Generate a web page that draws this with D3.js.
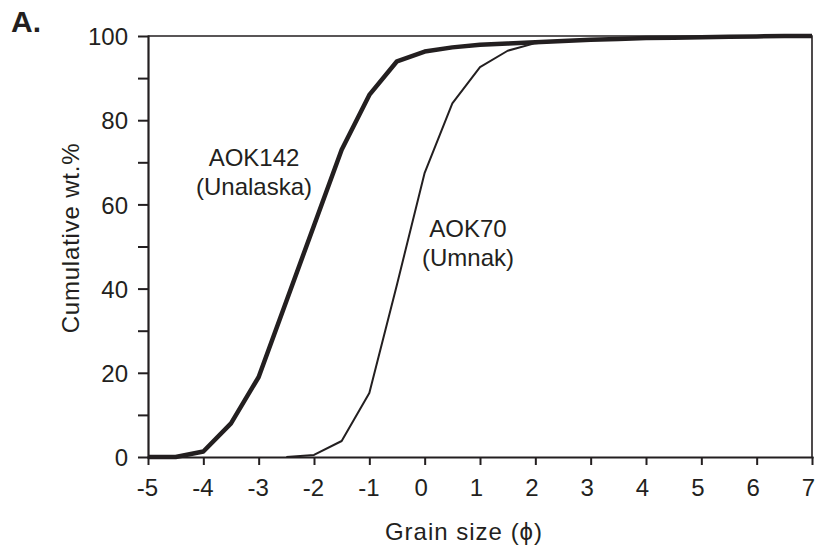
<!DOCTYPE html>
<html>
<head>
<meta charset="utf-8">
<style>
  body { margin: 0; background: #fff; }
  svg text { font-family: "Liberation Sans", Arial, sans-serif; fill: #231f20; }
</style>
<title>Cumulative grain size</title>
</head>
<body>
<script src="https://cdn.jsdelivr.net/npm/d3@7"></script>
<script>

// grain size classes (phi), every half phi
var phi = [-5, -4.5, -4, -3.5, -3, -2.5, -2, -1.5, -1, -0.5, 0, 0.5, 1, 1.5, 2, 2.5, 3, 3.5, 4, 4.5, 5, 5.5, 6, 6.5, 7];

// cumulative wt.%
var aok142 = [0, 0, 1.3, 8, 19, 37, 55, 73, 86, 94, 96.3, 97.3, 97.9, 98.2, 98.5, 98.8, 99.1, 99.3, 99.5, 99.6, 99.7, 99.8, 99.9, 100, 100];
var aok70  = [null, null, null, null, null, 0, 0.5, 3.8, 15.2, 41, 67.5, 84, 92.6, 96.5, 98.3, 98.8, 99.1, 99.3, 99.5, 99.6, 99.7, 99.8, 99.9, 100, 100];

var xTicks = [-5, -4, -3, -2, -1, 0, 1, 2, 3, 4, 5, 6, 7];
var yTicks = [0, 10, 20, 30, 40, 50, 60, 70, 80, 90, 100];
var yLabels = [0, 20, 40, 60, 80, 100];

var ink = "#231f20";
var width = 817, height = 555;
var margin = {top: 36, right: 5, bottom: 98, left: 148};

var svg = d3.select("body").append("svg")
    .attr("width", width)
    .attr("height", height);

var x = d3.scaleLinear().domain([-5, 7]).range([margin.left, width - margin.right]);
var y = d3.scaleLinear().domain([0, 100]).range([height - margin.bottom, margin.top]);

// frame on top and right
svg.append("path")
    .attr("d", "M" + x(-5) + "," + y(100) + "H" + x(7) + "V" + y(0))
    .attr("fill", "none")
    .attr("stroke", ink)
    .attr("stroke-width", 1.6);

// y axis
var yAxis = svg.append("g")
    .attr("transform", "translate(" + margin.left + ",0)")
    .call(d3.axisLeft(y).tickValues(yTicks).tickSize(10).tickSizeOuter(0)
      .tickFormat(function(d) { return yLabels.indexOf(d) >= 0 ? d : ""; }));
yAxis.select(".domain").attr("stroke", ink).attr("stroke-width", 2.2);
yAxis.selectAll(".tick line").attr("stroke", ink).attr("stroke-width", 2);
yAxis.selectAll(".tick text")
    .attr("x", -20)
    .attr("font-size", 24)
    .attr("dy", "0.36em");

// x axis
var xAxis = svg.append("g")
    .attr("transform", "translate(0," + y(0) + ")")
    .call(d3.axisBottom(x).tickValues(xTicks).tickSize(8).tickSizeOuter(0)
      .tickFormat(function(d) { return d < 0 ? "-" + Math.abs(d) : d; }));
xAxis.select(".domain").attr("stroke", ink).attr("stroke-width", 2.2);
xAxis.selectAll(".tick line").attr("stroke", ink).attr("stroke-width", 2);
xAxis.selectAll(".tick text")
    .attr("y", 22)
    .attr("dx", function(d) { return d < 0 ? -1 : -4; })
    .attr("font-size", 24)
    .attr("dy", "0.71em");
svg.selectAll(".domain").attr("stroke-linecap", "square");

// curves
var line = d3.line()
    .defined(function(d) { return d.v !== null; })
    .x(function(d) { return x(d.p); })
    .y(function(d) { return y(d.v); });

function series(vals) {
  return phi.map(function(p, i) { return {p: p, v: vals[i]}; });
}

svg.append("path")
    .datum(series(aok70))
    .attr("d", line)
    .attr("fill", "none")
    .attr("stroke", ink)
    .attr("stroke-width", 2)
    .attr("stroke-linejoin", "round");

svg.append("path")
    .datum(series(aok142))
    .attr("d", line)
    .attr("fill", "none")
    .attr("stroke", ink)
    .attr("stroke-width", 4.5)
    .attr("stroke-linejoin", "round");

// curve labels
function label(cx, lines, base) {
  lines.forEach(function(t, i) {
    svg.append("text")
      .attr("x", cx)
      .attr("y", base + i * 29)
      .attr("text-anchor", "middle")
      .attr("font-size", 24)
      .text(t);
  });
}
label(254, ["AOK142", "(Unalaska)"], 166);
label(468, ["AOK70", "(Umnak)"], 237);

// axis titles
svg.append("text")
    .attr("x", 464)
    .attr("y", 540)
    .attr("text-anchor", "middle")
    .attr("font-size", 24)
    .attr("letter-spacing", 1)
    .text("Grain size (\u03D5)");

svg.append("text")
    .attr("transform", "translate(79,238) rotate(-90)")
    .attr("text-anchor", "middle")
    .attr("font-size", 24)
    .attr("letter-spacing", 0.8)
    .text("Cumulative wt.%");

// panel letter
svg.append("text")
    .attr("x", 11)
    .attr("y", 32)
    .attr("font-size", 30)
    .attr("font-weight", "bold")
    .text("A.");

</script>
</body>
</html>
